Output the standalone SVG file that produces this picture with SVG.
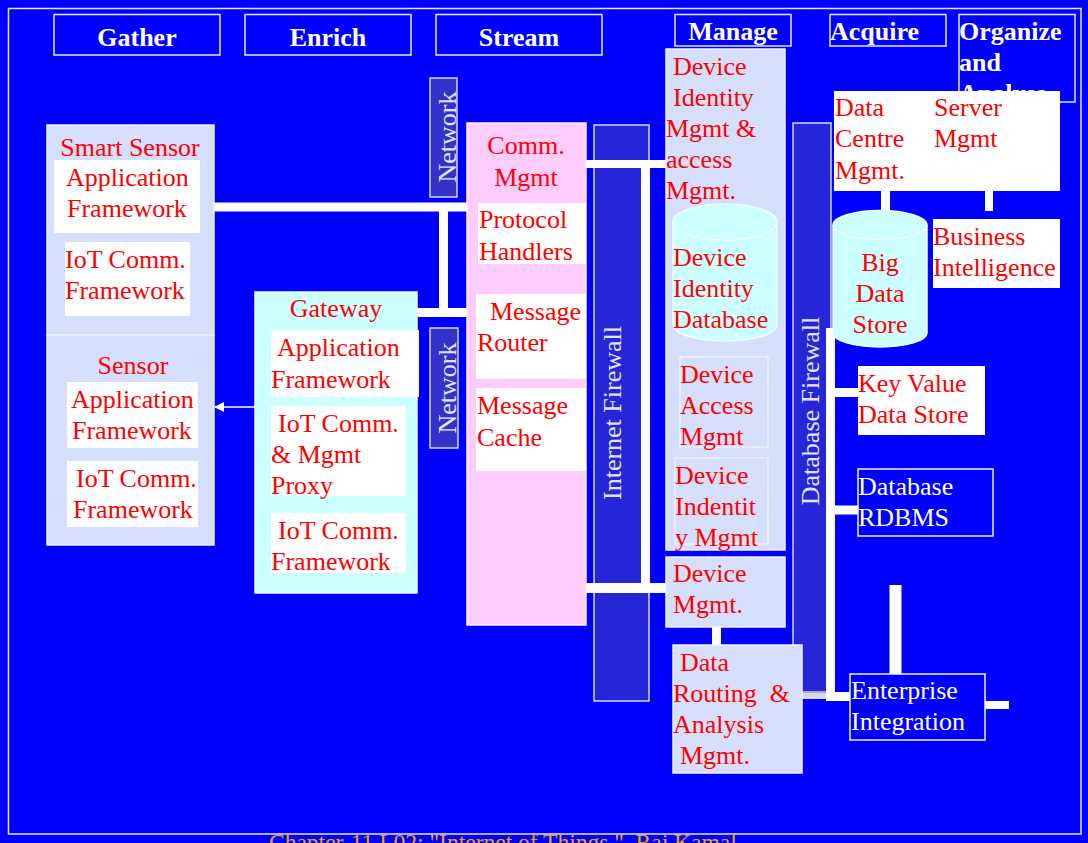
<svg xmlns="http://www.w3.org/2000/svg" width="1088" height="843" viewBox="0 0 1088 843">
<defs>
<style>
.ht{font-family:"Liberation Serif",serif;font-weight:bold;font-size:26px;fill:#fff}
.rt{font-family:"Liberation Serif",serif;font-size:26px;fill:#ff0000}
.wtx{font-family:"Liberation Serif",serif;font-size:26px;fill:#fff}
.vt{font-family:"Liberation Serif",serif;font-size:26px;fill:#e4e4ff}
.hdr{fill:#0000ff;stroke:#e6e6ff;stroke-width:1.5}
.lav{fill:#d5defa;stroke:#eef1ff;stroke-width:1.5}
.lavin{fill:#d5defa;stroke:#f4f6ff;stroke-width:1.2}
.cyan{fill:#ccffff;stroke:#eefaff;stroke-width:1.5}
.pink{fill:#ffccff;stroke:#fff0ff;stroke-width:1.5}
.wb{fill:#fff}
.net{fill:#3333cc;stroke:#d6d6ff;stroke-width:1.5}
.fw{fill:#2626d9;stroke:#d6d6ff;stroke-width:1.5}
.bb{fill:#0000ff;stroke:#eef1ff;stroke-width:1.5}
.c{stroke:#fff;fill:none}
</style>
<marker id="ah" markerWidth="10" markerHeight="10" refX="9" refY="5" orient="auto" markerUnits="userSpaceOnUse">
<path d="M0,0 L10,5 L0,10 z" fill="#fff"/>
</marker>
</defs>
<rect x="0" y="0" width="1088" height="843" fill="#0000ff"/>
<rect x="8.5" y="8.5" width="1072.5" height="825.5" fill="none" stroke="#e6e6ff" stroke-width="1.5"/>

<g id="headers">
<g id="h-gather"><rect class="hdr" x="54" y="14.5" width="166" height="40.5"/><text class="ht" x="137" y="46" text-anchor="middle">Gather</text></g>
<g id="h-enrich"><rect class="hdr" x="245" y="14.5" width="166" height="40.5"/><text class="ht" x="328" y="46" text-anchor="middle">Enrich</text></g>
<g id="h-stream"><rect class="hdr" x="436" y="14.5" width="166" height="40.5"/><text class="ht" x="519" y="46" text-anchor="middle">Stream</text></g>
<g id="h-manage"><rect class="hdr" x="675" y="14.5" width="116" height="31.5"/><text class="ht" x="733" y="40" text-anchor="middle">Manage</text></g>
<g id="h-acquire"><rect class="hdr" x="830" y="14.5" width="116" height="31.5"/><text class="ht" x="830" y="40">Acquire</text></g>
<g id="h-organize"><rect class="hdr" x="959" y="14.5" width="116" height="87.5"/><text class="ht" x="959" y="40">Organize<tspan x="959" y="71">and</tspan><tspan x="959" y="102">Analyse</tspan></text></g>
</g>

<g id="network1"><rect class="net" x="430" y="78" width="27" height="119"/><text class="vt" transform="translate(456,137) rotate(-90)" text-anchor="middle">Network</text></g>
<g id="network2"><rect class="net" x="430" y="328" width="28" height="120"/><text class="vt" transform="translate(456,388) rotate(-90)" text-anchor="middle">Network</text></g>
<g id="internet-firewall"><rect class="fw" x="594" y="125" width="55" height="576"/><text class="vt" transform="translate(621,413) rotate(-90)" text-anchor="middle">Internet Firewall</text></g>
<g id="database-firewall"><rect class="fw" x="793" y="123" width="38" height="569"/><text class="vt" transform="translate(819,411) rotate(-90)" text-anchor="middle">Database Firewall</text></g>

<g id="connectors">
<line class="c" x1="214" y1="207" x2="467" y2="207" stroke-width="9"/>
<line class="c" x1="443.5" y1="203" x2="443.5" y2="317" stroke-width="9"/>
<line class="c" x1="417" y1="312.5" x2="467" y2="312.5" stroke-width="9"/>
<line class="c" x1="586" y1="164" x2="666" y2="164" stroke-width="8"/>
<line class="c" x1="645.5" y1="160" x2="645.5" y2="593" stroke-width="9"/>
<line class="c" x1="586" y1="588" x2="666" y2="588" stroke-width="10"/>
<line class="c" x1="716.5" y1="627" x2="716.5" y2="646" stroke-width="9"/>
<line x1="802" y1="696" x2="831" y2="696" stroke="#d9d9d9" stroke-width="6"/>
<line class="c" x1="830.5" y1="328" x2="830.5" y2="701" stroke-width="9"/>
<line class="c" x1="826" y1="696.5" x2="850" y2="696.5" stroke-width="9"/>
<line class="c" x1="830" y1="392.5" x2="858" y2="392.5" stroke-width="9"/>
<line class="c" x1="830" y1="510" x2="858" y2="510" stroke-width="9"/>
<line class="c" x1="885.5" y1="191" x2="885.5" y2="214" stroke-width="9"/>
<line class="c" x1="989" y1="191" x2="989" y2="211" stroke-width="8"/>
<line class="c" x1="895.5" y1="585" x2="895.5" y2="675" stroke-width="12"/>
<line class="c" x1="985" y1="705" x2="1009" y2="705" stroke-width="8"/>
<line class="c" x1="255" y1="407" x2="215" y2="407" stroke-width="1.5" marker-end="url(#ah)"/>
</g>

<g id="smart-sensor">
<rect class="lav" x="47" y="125" width="167" height="210"/>
<text class="rt" x="130" y="156" text-anchor="middle">Smart Sensor</text>
<rect class="wb" x="54" y="160" width="146" height="73"/>
<text class="rt" x="66" y="186">Application<tspan x="67" y="217">Framework</tspan></text>
<rect class="wb" x="65" y="242" width="125" height="74"/>
<text class="rt" x="65" y="268">IoT Comm.<tspan x="65" y="299">Framework</tspan></text>
</g>

<g id="sensor">
<rect class="lav" x="47" y="335" width="167" height="210"/>
<text class="rt" x="133" y="374" text-anchor="middle">Sensor</text>
<rect class="wb" x="67" y="382" width="131" height="66"/>
<text class="rt" x="71" y="408">Application<tspan x="72" y="439">Framework</tspan></text>
<rect class="wb" x="67" y="461" width="131" height="66"/>
<text class="rt" x="76" y="487">IoT Comm.<tspan x="73" y="518">Framework</tspan></text>
</g>

<g id="gateway">
<rect class="cyan" x="255" y="292" width="162" height="301"/>
<text class="rt" x="336" y="317" text-anchor="middle">Gateway</text>
<rect class="wb" x="271" y="330" width="148" height="67"/>
<text class="rt" x="277" y="356">Application<tspan x="271" y="388">Framework</tspan></text>
<rect class="wb" x="271" y="406" width="135" height="90"/>
<text class="rt" x="278" y="432">IoT Comm.<tspan x="271" y="463">&amp; Mgmt</tspan><tspan x="271" y="494">Proxy</tspan></text>
<rect class="wb" x="271" y="513" width="135" height="60"/>
<text class="rt" x="278" y="539">IoT Comm.<tspan x="271" y="570">Framework</tspan></text>
</g>

<g id="comm-mgmt">
<rect class="pink" x="467" y="123" width="119" height="502"/>
<text class="rt" x="526" y="154" text-anchor="middle">Comm.<tspan x="526" y="186">Mgmt</tspan></text>
<rect class="wb" x="478" y="203" width="108" height="61"/>
<text class="rt" x="479" y="228">Protocol<tspan x="479" y="260">Handlers</tspan></text>
<rect class="wb" x="476" y="294" width="110" height="85"/>
<text class="rt" x="490" y="320">Message<tspan x="477" y="351">Router</tspan></text>
<rect class="wb" x="476" y="388" width="110" height="83"/>
<text class="rt" x="477" y="414">Message<tspan x="477" y="446">Cache</tspan></text>
</g>

<g id="device-identity-mgmt">
<rect class="lav" x="666" y="49" width="119" height="501"/>
<text class="rt" x="673" y="75">Device<tspan x="673" y="106">Identity</tspan><tspan x="666" y="137">Mgmt &amp;</tspan><tspan x="666" y="168">access</tspan><tspan x="666" y="199">Mgmt.</tspan></text>
</g>

<g id="device-identity-db">
<path d="M673,222 A52,18 0 0 1 777,222 L777,325 A52,16 0 0 1 673,325 Z" fill="#ccffff" stroke="#f0ffff" stroke-width="1.5"/>
<path d="M673,222 A52,18 0 0 0 777,222" fill="none" stroke="#f0ffff" stroke-width="1.5"/>
<text class="rt" x="673" y="266">Device<tspan x="673" y="297">Identity</tspan><tspan x="673" y="328">Database</tspan></text>
</g>

<g id="device-access-mgmt">
<rect class="lavin" x="680" y="357" width="88" height="90"/>
<text class="rt" x="680" y="383">Device<tspan x="680" y="414">Access</tspan><tspan x="680" y="445">Mgmt</tspan></text>
</g>

<g id="device-indentity-mgmt">
<rect class="lavin" x="675" y="458" width="93" height="86"/>
<text class="rt" x="675" y="484">Device<tspan x="675" y="515">Indentit</tspan><tspan x="675" y="546">y Mgmt</tspan></text>
</g>

<g id="device-mgmt">
<rect class="lav" x="666" y="557" width="119" height="70"/>
<text class="rt" x="673" y="582">Device<tspan x="673" y="613">Mgmt.</tspan></text>
</g>

<g id="data-routing">
<rect class="lav" x="673" y="645" width="129" height="128"/>
<text class="rt" x="680" y="671">Data<tspan x="673" y="702">Routing&#160; &amp;</tspan><tspan x="673" y="733">Analysis</tspan><tspan x="680" y="764">Mgmt.</tspan></text>
</g>

<g id="data-centre">
<rect class="wb" x="834" y="91" width="226" height="100"/>
<text class="rt" x="835" y="116">Data<tspan x="835" y="147">Centre</tspan><tspan x="835" y="179">Mgmt.</tspan></text>
<text class="rt" x="934" y="116">Server<tspan x="934" y="147">Mgmt</tspan></text>
</g>

<g id="big-data-store">
<path d="M833,225 A47,14.5 0 0 1 927,225 L927,333 A47,14 0 0 1 833,333 Z" fill="#ccffff" stroke="#f0ffff" stroke-width="1.5"/>
<path d="M833,225 A47,14.5 0 0 0 927,225" fill="none" stroke="#f0ffff" stroke-width="1.5"/>
<text class="rt" x="880" y="271" text-anchor="middle">Big<tspan x="880" y="302">Data</tspan><tspan x="880" y="333">Store</tspan></text>
</g>

<g id="business-intelligence">
<rect class="wb" x="933" y="219" width="127" height="69"/>
<text class="rt" x="933" y="245">Business<tspan x="933" y="276">Intelligence</tspan></text>
</g>

<g id="key-value">
<rect class="wb" x="858" y="366" width="127" height="69"/>
<text class="rt" x="858" y="392">Key Value<tspan x="858" y="423">Data Store</tspan></text>
</g>

<g id="database-rdbms">
<rect class="bb" x="858" y="469" width="135" height="67"/>
<text class="wtx" x="858" y="495">Database<tspan x="858" y="526">RDBMS</tspan></text>
</g>

<g id="enterprise-integration">
<rect class="bb" x="850" y="674" width="135" height="66"/>
<text class="wtx" x="851" y="699">Enterprise<tspan x="851" y="730">Integration</tspan></text>
</g>

<text x="269" y="850" font-family="Liberation Serif, serif" font-size="23.5" fill="#f5a000">Chapter-11 L02: "Internet of Things ", Raj Kamal</text>
</svg>
